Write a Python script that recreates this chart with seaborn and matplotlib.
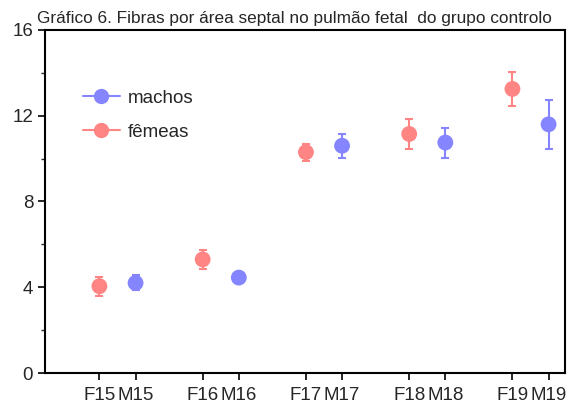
import matplotlib
matplotlib.use("Agg")
import matplotlib.pyplot as plt
from matplotlib.lines import Line2D
import seaborn as sns
import pandas as pd

days = [15, 16, 17, 18, 19]
femeas_mean = [4.05, 5.30, 10.30, 11.15, 13.25]
femeas_err = [0.45, 0.45, 0.40, 0.70, 0.80]
machos_mean = [4.20, 4.45, 10.60, 10.75, 11.60]
machos_err = [0.35, 0.20, 0.55, 0.70, 1.15]
yticks = [0, 4, 8, 12, 16]
title = "Gráfico 6. Fibras por área septal no pulmão fetal  do grupo controlo"

pink = "#FF8585"
blue = "#8585FF"
off = 0.175

sns.set_style("ticks")
plt.rcParams["font.family"] = ["Liberation Sans", "DejaVu Sans"]

rows = []
for d, m, e in zip(days, femeas_mean, femeas_err):
    rows.append({"x": d - off, "y": m, "err": e, "sexo": "fêmeas", "lab": f"F{d}"})
for d, m, e in zip(days, machos_mean, machos_err):
    rows.append({"x": d + off, "y": m, "err": e, "sexo": "machos", "lab": f"M{d}"})
df = pd.DataFrame(rows)

fig = plt.figure(figsize=(5.70, 4.03), dpi=100)
ax = fig.add_axes([45/570, 30/403, 520/570, 343/403])

pal = {"fêmeas": pink, "machos": blue}
for s, g in df.groupby("sexo"):
    ax.errorbar(g["x"], g["y"], yerr=g["err"], fmt="none", ecolor=pal[s],
                elinewidth=1.5, capsize=3, capthick=1.5, zorder=2)
sns.scatterplot(data=df, x="x", y="y", hue="sexo", palette=pal, s=130,
                edgecolor="none", legend=False, ax=ax, zorder=3)

ax.set_xlim(14.298, 19.334)
ax.set_ylim(0, 16)
ax.set_yticks(yticks)
ax.set_yticks([2, 6, 10, 14], minor=True)
d_sorted = df.sort_values("x")
ax.set_xticks(d_sorted["x"].tolist())
ax.set_xticklabels(d_sorted["lab"].tolist())
ax.set_xlabel("")
ax.set_ylabel("")
ax.tick_params(axis="both", which="major", labelsize=13.5, direction="out",
               length=5, width=1.2, color="black")
ax.tick_params(axis="y", which="minor", direction="out", length=3, width=1.0)
ax.tick_params(axis="x", pad=5)
for sp in ax.spines.values():
    sp.set_linewidth(1.5)
    sp.set_color("black")

handles = [
    Line2D([0], [0], color=blue, lw=1.5, marker="o", markersize=11, markeredgecolor="none"),
    Line2D([0], [0], color=pink, lw=1.5, marker="o", markersize=11, markeredgecolor="none"),
]
ax.legend(handles, ["machos", "fêmeas"], loc="upper left", bbox_to_anchor=(0.04, 0.876),
          frameon=False, fontsize=13.5, handlelength=2.0, handletextpad=0.4, labelspacing=0.9)

fig.text(37/570, 1 - 23/403, title, fontsize=12.4, ha="left", va="baseline")

fig.savefig("out.png", dpi=100)
